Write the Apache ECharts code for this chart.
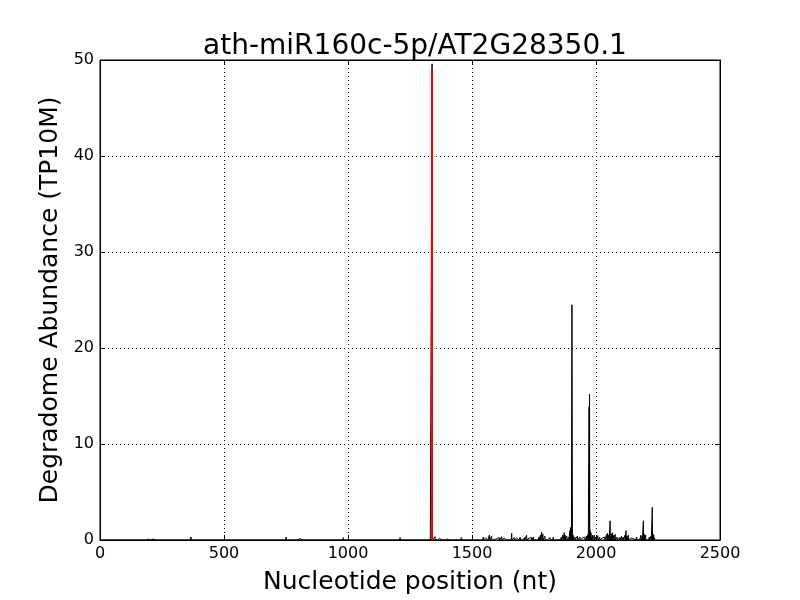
<!DOCTYPE html>
<html>
<head>
<meta charset="utf-8">
<script src="https://cdn.jsdelivr.net/npm/echarts@6/dist/echarts.min.js"></script>
<style>html,body{margin:0;padding:0;background:#fff}#c{width:800px;height:600px}</style>
</head>
<body>
<div id="c"></div>
<script>
const titleText = "ath-miR160c-5p/AT2G28350.1";
const xLabel = "Nucleotide position (nt)";
const yLabel = "Degradome Abundance (TP10M)";
const xTicks = [0, 500, 1000, 1500, 2000, 2500];
const yTicks = [0, 10, 20, 30, 40, 50];
const transcriptLength = 2240;
const cleavagePos = 1339;
const cleavageHeight = 49;
const peakPositions = [90,121,141,155,195,208,215,249,282,347,367,450,551,571,602,625,652,659,692,723,751,800,806,860,914,950,954,981,1032,1060,1090,1120,1150,1180,1210,1240,1270,1290,1310,1325,1336,
1339,
1341,1345,1351,1360,1370,1384,1400,1420,1440,1458,1475,1490,1510,1525,1545,1555,1563,1570,1579,1590,1600,1610,1620,1630,1645,1660,1670,1680,1694,1705,1712,1720,1730,1740,1747,1760,1770,1776,1781,1786,1794,1805,1815,1828,1840,1850,1860,1866,1872,1876,1882,1890,1895,1898,1900,1902,1903,1904,1905,1908,1915,1925,1935,1945,1955,1962,1968,1972,1974,1976,1980,1986,1993,2000,2007,2015,2025,2035,2043,2047,2052,2057,2062,2066,2072,2077,2085,2095,2103,2110,2117,2121,2125,2130,2140,2150,2158,2164,2172,2181,2186,2191,2195,2200,2208,2215,2222,2227,2230,2233,2238];
const peakValues = [0.1,0.08,0.1,0.08,0.1,0.08,0.1,0.12,0.1,0.1,0.3,0.1,0.1,0.12,0.1,0.08,0.1,0.12,0.1,0.1,0.3,0.1,0.15,0.1,0.1,0.12,0.15,0.25,0.12,0.1,0.12,0.1,0.12,0.1,0.25,0.12,0.15,0.12,0.15,0.2,0.2,
49.6,
0.3,0.2,0.35,0.2,0.15,0.2,0.1,0.12,0.1,0.25,0.1,0.12,0.15,0.2,0.3,0.2,0.3,0.5,0.4,0.2,0.15,0.25,0.35,0.2,0.15,0.7,0.25,0.2,0.3,0.2,0.25,0.5,0.2,0.25,0.3,0.2,0.3,0.5,0.8,0.6,0.4,0.2,0.25,0.3,0.15,0.2,0.3,0.5,0.76,0.5,0.4,0.3,1.0,1.3,0.8,15.7,24.5,14.4,1.2,0.5,0.3,0.4,0.3,0.2,0.3,0.4,0.6,13.9,15.2,1.0,0.76,0.5,0.5,0.3,0.45,0.3,0.2,0.3,0.6,0.7,0.5,2.0,0.6,0.76,0.5,0.6,0.3,0.25,0.4,0.3,0.5,0.97,0.4,0.5,0.2,0.15,0.2,0.3,0.2,0.5,0.4,2.0,0.6,0.5,0.2,0.3,0.4,3.4,0.6,0.5,0.2];

const valueAt = {};
peakPositions.forEach((p, i) => { valueAt[p] = peakValues[i]; });
const profile = [];
for (let i = 1; i <= transcriptLength; i++) profile.push([i, valueAt[i] || 0]);

const font = "DejaVu Sans";
const chart = echarts.init(document.getElementById('c'), null, {renderer: 'canvas'});
const axisCommon = {
  type: 'value',
  axisLine: {show: true, onZero: false, lineStyle: {color: '#000', width: 1}},
  axisTick: {show: true, inside: true, length: 5, lineStyle: {color: '#000'}},
};
const plain = v => String(v);
chart.setOption({
  animation: false,
  backgroundColor: '#fff',
  title: {
    text: titleText, left: 410, textAlign: 'center', top: 28,
    textStyle: {fontFamily: font, fontSize: 28, fontWeight: 'normal', color: '#000'}
  },
  grid: {left: 100, right: 80, top: 60, bottom: 60, show: true, borderColor: '#000', borderWidth: 1},
  xAxis: [
    Object.assign({}, axisCommon, {
      min: xTicks[0], max: xTicks[xTicks.length - 1], interval: 500, position: 'bottom',
      name: xLabel, nameLocation: 'middle', nameGap: 30,
      nameTextStyle: {fontFamily: font, fontSize: 25, color: '#000'},
      axisLabel: {fontFamily: font, fontSize: 16, color: '#000', margin: 6, formatter: plain},
      splitLine: {show: true, lineStyle: {color: '#000', type: [1, 3], width: 1}}
    }),
    Object.assign({}, axisCommon, {
      min: xTicks[0], max: xTicks[xTicks.length - 1], interval: 500, position: 'top',
      axisLabel: {show: false}, splitLine: {show: false}
    })
  ],
  yAxis: [
    Object.assign({}, axisCommon, {
      min: yTicks[0], max: yTicks[yTicks.length - 1], interval: 10, position: 'left',
      name: yLabel, nameLocation: 'middle', nameGap: 35,
      nameTextStyle: {fontFamily: font, fontSize: 25, color: '#000'},
      axisLabel: {fontFamily: font, fontSize: 16, color: '#000', margin: 6, formatter: plain},
      splitLine: {show: true, lineStyle: {color: '#000', type: [1, 3], width: 1}}
    }),
    Object.assign({}, axisCommon, {
      min: yTicks[0], max: yTicks[yTicks.length - 1], interval: 10, position: 'right',
      axisLabel: {show: false}, splitLine: {show: false}
    })
  ],
  series: [
    {
      type: 'line', data: profile, showSymbol: false, symbol: 'none',
      lineStyle: {color: '#000', width: 1}, xAxisIndex: 0, yAxisIndex: 0, z: 3
    },
    {
      type: 'line', data: [[cleavagePos, 0], [cleavagePos, cleavageHeight]], showSymbol: false, symbol: 'none',
      lineStyle: {color: '#ff0000', width: 2}, xAxisIndex: 0, yAxisIndex: 0, z: 4
    }
  ]
});
</script>
</body>
</html>
